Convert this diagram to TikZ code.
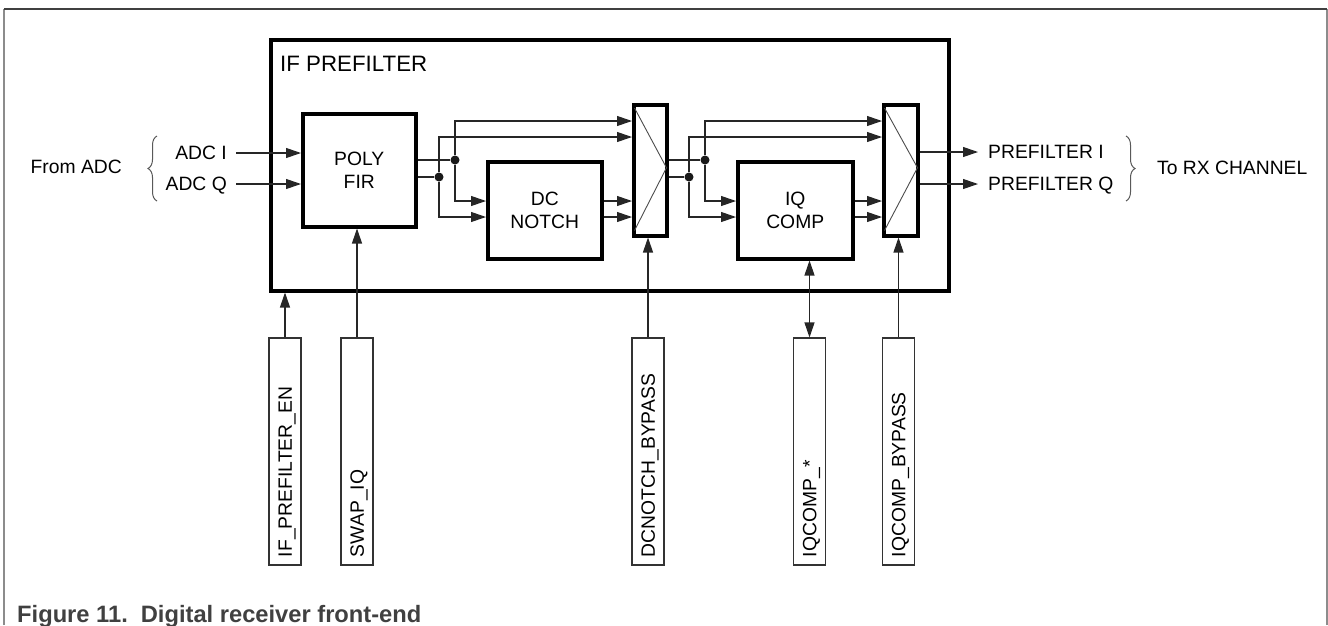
\documentclass[tikz,border=0pt]{standalone}
\usepackage{fontspec}
\setmainfont{Liberation Sans}
\usepackage{tikz}
\usetikzlibrary{arrows.meta,calc,decorations.pathreplacing,positioning,shapes}

\begin{document}
\begin{tikzpicture}[x=1pt, y=-1pt, >={Triangle[length=15pt,width=10pt]},
					every node/.style={font=\fontsize{19.3}{23.5}\selectfont},
					blk/.style={draw, line width=3.5pt, anchor=north west, align=center, inner sep=0pt},
					ctl/.style={draw=black!80, line width=1.1pt, rotate=90, minimum height=32pt,
						text width=211pt, align=left, inner xsep=8pt, inner ysep=0pt,
						text height=13.8pt, text depth=0pt},
					wire/.style={line width=1.1pt, draw=black!85},
					sig/.style={wire, ->},
					lbl/.style={inner sep=0pt, text height=13.8pt, text depth=0pt},
					dot/.style={circle, fill=black!90, inner sep=0pt, minimum size=9pt},
					brc/.style={decorate, decoration={brace, amplitude=9pt}, line width=1pt, draw=black!65}
				]
				\useasboundingbox (0,0) rectangle (1328,625);
				% page frame
				\draw[black!45, line width=1.2pt] (4,625) -- (4,9);
				\draw[black!45, line width=1.2pt] (1327,625) -- (1327,9);
				\draw[black!75, line width=1.4pt] (4,9) -- (1327,9);
				
				% blocks
				\node[blk, minimum width=678pt, minimum height=251pt] (pre) at (269,38) {};
				\node[lbl, anchor=west, font=\fontsize{22.3}{26}\selectfont, text height=16pt] (title) at (280,63) {IF PREFILTER};
				\node[blk, minimum width=113pt, minimum height=113pt] (fir) at (301,112) {POLY\\FIR};
				\node[blk, minimum width=114pt, minimum height=97pt] (notch) at (486,160) {DC\\NOTCH};
				\node[blk, minimum width=33pt, minimum height=131pt] (mux1) at (632,103) {};
				\node[blk, minimum width=115pt, minimum height=97pt] (iqc) at (736,160) {IQ\\COMP};
				\node[blk, minimum width=34pt, minimum height=131pt] (mux2) at (882,103) {};
				\foreach \m in {mux1,mux2}
					\draw[black!70, line width=0.9pt] ($(\m.north west)+(2.5,5)$) -- ($(\m.east)+(-2,-2.5)$) -- ($(\m.south west)+(2.5,-7)$);
				
				% inputs
				\coordinate (inI) at (236,153);
				\coordinate (inQ) at (236,184);
				\node[lbl, left=9pt of inI] (adcI) {ADC I};
				\node[lbl, left=9pt of inQ] (adcQ) {ADC Q};
				\node[lbl, anchor=east] (from) at (122,167) {From ADC};
				\draw[brc] (157,201) -- (157,136);
				\draw[sig] (inI) -- (inI -| fir.west);
				\draw[sig] (inQ) -- (inQ -| fir.west);
				
				% rows of the bypass paths
				\coordinate (r1) at (0,121);
				\coordinate (r2) at (0,137);
				\coordinate (r3) at (0,201);
				\coordinate (r4) at (0,217);
				
				% first stage
				\node[dot] (dA) at (455,160) {};
				\node[dot] (dB) at (439,177) {};
				\draw[wire] (dA -| fir.east) -- (dA);
				\draw[wire] (dB -| fir.east) -- (dB);
				\draw[sig] (dA) |- (r1 -| mux1.west);
				\draw[sig] (dA) |- (r3 -| notch.west);
				\draw[sig] (dB) |- (r2 -| mux1.west);
				\draw[sig] (dB) |- (r4 -| notch.west);
				\draw[sig] (r3 -| notch.east) -- (r3 -| mux1.west);
				\draw[sig] (r4 -| notch.east) -- (r4 -| mux1.west);
				
				% second stage
				\node[dot] (dC) at (705,160) {};
				\node[dot] (dD) at (689,177) {};
				\draw[wire] (dC -| mux1.east) -- (dC);
				\draw[wire] (dD -| mux1.east) -- (dD);
				\draw[sig] (dC) |- (r1 -| mux2.west);
				\draw[sig] (dC) |- (r3 -| iqc.west);
				\draw[sig] (dD) |- (r2 -| mux2.west);
				\draw[sig] (dD) |- (r4 -| iqc.west);
				\draw[sig] (r3 -| iqc.east) -- (r3 -| mux2.west);
				\draw[sig] (r4 -| iqc.east) -- (r4 -| mux2.west);
				
				% outputs
				\coordinate (outI) at (978,152);
				\coordinate (outQ) at (978,184);
				\draw[sig] (outI -| mux2.east) -- (outI);
				\draw[sig] (outQ -| mux2.east) -- (outQ);
				\node[lbl, right=10pt of outI] (pfI) {PREFILTER I};
				\node[lbl, right=10pt of outQ] (pfQ) {PREFILTER Q};
				\draw[brc] (1126,136) -- (1126,201);
				\node[lbl, anchor=west] (torx) at (1157,168) {To RX CHANNEL};
				
				% register fields (rotated, east anchor is the top)
				\node[ctl] (en) at (285,451.5) {IF\_PREFILTER\_EN};
				\node[ctl] (swap) at (357,451.5) {SWAP\_IQ};
				\node[ctl] (dcb) at (648,451.5) {DCNOTCH\_BYPASS};
				\node[ctl] (iqs) at (809.5,451.5) {IQCOMP\_*};
				\node[ctl] (iqb) at (898.5,451.5) {IQCOMP\_BYPASS};
				\draw[sig] (en.east) -- (en.east |- pre.south);
				\draw[sig] (swap.east) -- (swap.east |- fir.south);
				\draw[sig] (dcb.east) -- (dcb.east |- mux1.south);
				\draw[wire, <->] (iqs.east) -- (iqs.east |- iqc.south);
				\draw[sig] (iqb.east) -- (iqb.east |- mux2.south);
				
				\node[anchor=base west, inner sep=0pt, font=\fontsize{23.7}{28}\selectfont\bfseries, text=black!75] (cap) at (17,622) {Figure 11.\hspace{0.55em}Digital receiver front-end};
			\end{tikzpicture}
\end{document}
